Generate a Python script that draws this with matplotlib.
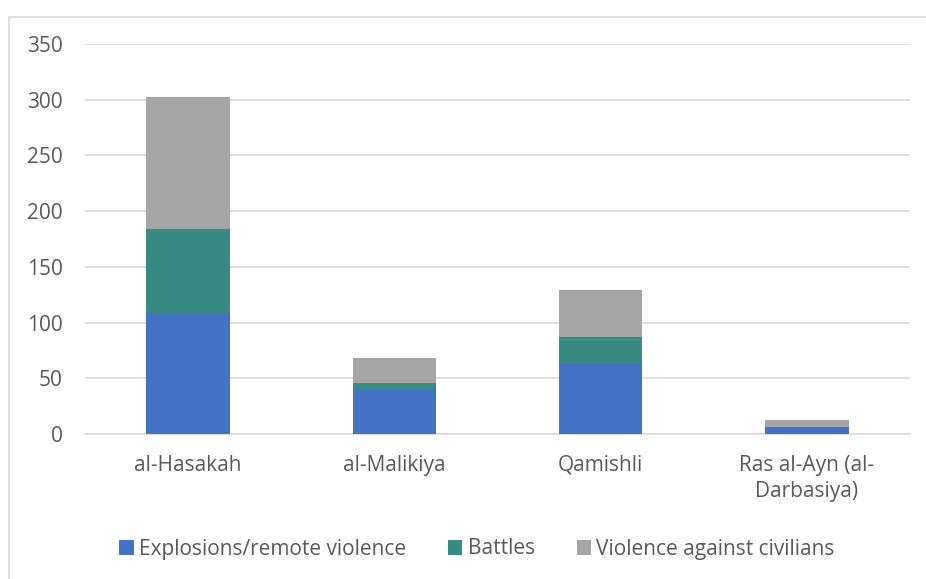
import matplotlib.pyplot as plt
import numpy as np

plt.rcParams['font.family'] = ['Open Sans', 'DejaVu Sans']

# Datos
categorias = ['al-Hasakah', 'al-Malikiya', 'Qamishli', 'Ras al-Ayn (al-\nDarbasiya)']
explosiones = [109, 40, 63, 5]
batallas = [75, 6, 24, 1]
violencia_civiles = [118, 22, 42, 7]

series = ['Explosions/remote violence', 'Battles', 'Violence against civilians']
colores = ['#4472C4', '#388B84', '#A5A5A5']
texto = '#595959'

fig = plt.figure(figsize=(9.26, 5.79), dpi=100)
ax = fig.add_axes([85 / 926, 1 - 434 / 579, 825 / 926, 390 / 579])

x = np.arange(len(categorias))
ancho = 0.405
base = np.zeros(len(categorias))
for valores, nombre, color in zip([explosiones, batallas, violencia_civiles], series, colores):
    ax.bar(x, valores, ancho, bottom=base, color=color, label=nombre, zorder=3)
    base += np.array(valores)

ax.set_xlim(-0.5, len(categorias) - 0.5)
ax.set_ylim(0, 350)
ax.set_yticks(range(0, 351, 50))
ax.set_xticks(x)
ax.set_xticklabels(categorias, linespacing=1.3)
ax.tick_params(length=0, labelsize=15, colors=texto)
ax.tick_params(axis='y', pad=16)
ax.tick_params(axis='x', pad=15)

ax.grid(axis='y', color='#D9D9D9', linewidth=1.2, zorder=0)
for lado in ['top', 'right', 'left']:
    ax.spines[lado].set_visible(False)
ax.spines['bottom'].set_color('#D9D9D9')
ax.spines['bottom'].set_linewidth(1.2)

leg = fig.legend(loc='center', bbox_to_anchor=(477 / 926, 1 - 549 / 579), ncol=3,
                 frameon=False, fontsize=15, handlelength=0.7, handleheight=0.7,
                 handletextpad=0.25, columnspacing=2.0)
for t in leg.get_texts():
    t.set_color(texto)

# Borde del grafico
fig.add_artist(plt.Line2D([9 / 926, 1], [1 - 17 / 579] * 2, color='#D9D9D9', linewidth=1.2))
fig.add_artist(plt.Line2D([9 / 926] * 2, [0, 1 - 17 / 579], color='#D9D9D9', linewidth=1.2))

fig.savefig('out.png', dpi=100)
